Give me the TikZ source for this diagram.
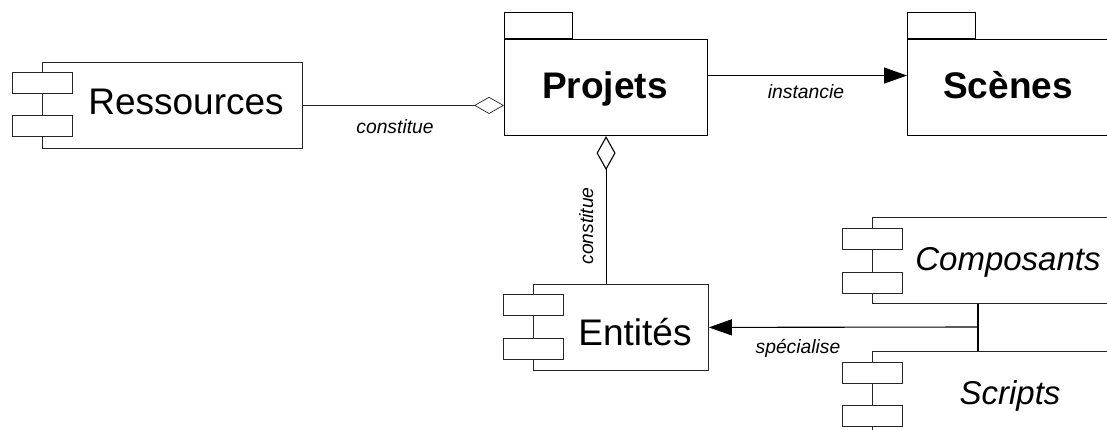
\documentclass[tikz,border=0pt]{standalone}
\usepackage{fontspec}
\setmainfont{Liberation Sans}
\usetikzlibrary{arrows.meta}
\begin{document}
\begin{tikzpicture}[x=1pt,y=-1pt,
  compbox/.style={draw=black!85,line width=0.8pt,fill=white,inner sep=0pt,anchor=north west},
  pkgbox/.style={draw=black,line width=1.1pt,fill=white,inner sep=0pt,anchor=north west},
  tabbox/.style={draw=black,line width=1.1pt,fill=white,inner sep=0pt,anchor=south west,minimum width=68,minimum height=26},
  port/.style={draw=black!85,line width=0.8pt,fill=white,inner sep=0pt,minimum width=60,minimum height=21},
  bigtxt/.style={anchor=base,inner sep=0pt,font=\fontsize{37}{40}\selectfont},
  boldtxt/.style={anchor=base,inner sep=0pt,font=\fontsize{37}{40}\selectfont\bfseries},
  itxt/.style={anchor=base,inner sep=0pt,font=\fontsize{33}{36}\selectfont\itshape},
  lbl/.style={anchor=base,inner sep=0pt,font=\fontsize{19.3}{21}\selectfont\itshape},
  agg/.style={-{Diamond[open,fill=white,length=30pt,width=17pt]}},
  aggv/.style={-{Diamond[open,fill=white,length=34pt,width=19pt]}},
  arr/.style={line width=1.1pt,-{Triangle[length=23pt,width=16pt]}}
]
\useasboundingbox (0,0) rectangle (1107,430);
\clip (0,0) rectangle (1107,430);
\fill[white] (0,0) rectangle (1107,430);

% Ressources
\node[compbox,minimum width=260,minimum height=86] (res) at (42,62) {};
\node[port] (resp1) at (42,83) {};
\node[port] (resp2) at (42,126) {};
\node[bigtxt] (rest) at (186,115) {Ressources};

% Projets
\node[pkgbox,minimum width=203,minimum height=96] (proj) at (504,39) {};
\node[tabbox] (projtab) at (proj.north west) {};
\node[boldtxt] (projt) at (605,99) {Projets};

% Scenes
\node[pkgbox,minimum width=203,minimum height=96] (scn) at (907,39) {};
\node[tabbox] (scntab) at (scn.north west) {};
\node[boldtxt] (scnt) at (1008,99) {Scènes};

% Entites
\node[compbox,minimum width=175,minimum height=86] (ent) at (533,284) {};
\node[port] (entp1) at (533,304.5) {};
\node[port] (entp2) at (533,348.5) {};
\node[bigtxt] (entt) at (635,345) {Entités};

% Composants
\node[compbox,minimum width=300,minimum height=86] (comp) at (872,217) {};
\node[port] (compp1) at (872,238.5) {};
\node[port] (compp2) at (872,282.5) {};
\node[itxt] (compt) at (1008,270) {Composants};

% Scripts
\node[compbox,minimum width=300,minimum height=110] (scr) at (872,351) {};
\node[port] (scrp1) at (872,372.5) {};
\node[port] (scrp2) at (872,415.5) {};
\node[itxt] (scrt) at (1010,404) {Scripts};

% connectors
\draw[agg,draw=black!85,line width=0.7pt] (res.east) -- (res.east -| proj.west);
\node[lbl] (l1) at (395,134) {constitue};

\draw[arr] ([yshift=12pt]proj.east) -- ([yshift=12pt]scn.west);
\node[lbl] (l2) at (806,99) {instancie};

\draw[aggv,line width=1.1pt] (ent.north -| proj.south) -- (proj.south);
\node[lbl,rotate=90,anchor=base] (l3) at (593,226) {constitue};

\coordinate (j) at (978,327);
\draw[line width=1.1pt] (j |- comp.south) -- (j |- scr.north);
\draw[arr] (j) -- (ent.east);
\node[lbl] (l4) at (798,353) {spécialise};
\end{tikzpicture}
\end{document}
